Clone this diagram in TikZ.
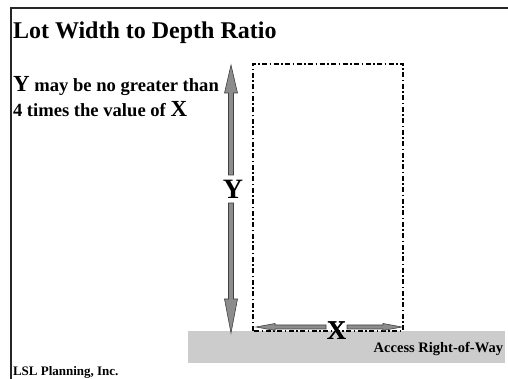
\documentclass[tikz,border=0pt]{standalone}
\usepackage{fontspec}
\setmainfont{Liberation Serif}
\usetikzlibrary{calc}
\definecolor{roadgray}{RGB}{204,204,204}
\definecolor{arrowgray}{RGB}{140,140,140}
\tikzset{
  lbl/.style={inner sep=0pt, outer sep=0pt, font=\bfseries},
  fatarrow/.style={fill=arrowgray, draw=black!75, line width=0.6pt, line join=miter},
  lotline/.style={draw=black, line width=1.4pt, dash pattern=on 5pt off 2.5pt on 1.5pt off 2.5pt},
}
\begin{document}
\begin{tikzpicture}[x=1pt,y=1pt]
\useasboundingbox (0,0) rectangle (508,379);
% frame
\draw[black!85, line width=1.3pt] (508,371) -- (11,371) -- (11,0);
% road band
\fill[roadgray] (188,16) rectangle (505,48);
% lot
\draw[lotline] (253,48) rectangle (403,315);
% coordinates
\coordinate (ytop) at (231,314);
\coordinate (ybot) at (231,46);
\coordinate (xleft) at (256,52);
\coordinate (xright) at (402,52);
% labels on arrows
\node[lbl, font=\bfseries\fontsize{28}{28}\selectfont] (ylab) at (233,190) {Y};
\node[lbl, font=\bfseries\fontsize{27}{27}\selectfont] (xlab) at (336.5,48) {X};
% Y arrow upper part
\draw[fatarrow] (ytop) -- ($(ytop)+(6.5,-28)$) -- ($(ytop)+(2.5,-28)$) -- (231+2.5,204) -- (231-2.5,204) -- ($(ytop)+(-2.5,-28)$) -- ($(ytop)+(-6.5,-28)$) -- cycle;
% Y arrow lower part
\draw[fatarrow] (ybot) -- ($(ybot)+(6.5,34)$) -- ($(ybot)+(2.5,34)$) -- (231+2.5,176) -- (231-2.5,176) -- ($(ybot)+(-2.5,34)$) -- ($(ybot)+(-6.5,34)$) -- cycle;
% X arrow left part
\draw[fatarrow] (xleft) -- ($(xleft)+(19,3.5)$) -- ($(xleft)+(19,2)$) -- (326,54) -- (326,50) -- ($(xleft)+(19,-2)$) -- ($(xleft)+(19,-3.5)$) -- cycle;
% X arrow right part
\draw[fatarrow] (xright) -- ($(xright)+(-19,3.5)$) -- ($(xright)+(-19,2)$) -- (347,54) -- (347,50) -- ($(xright)+(-19,-2)$) -- ($(xright)+(-19,-3.5)$) -- cycle;
% redraw X on top
\node[lbl, font=\bfseries\fontsize{27}{27}\selectfont] at (xlab) {X};
% texts
\node[lbl, font=\bfseries\fontsize{24}{24}\selectfont, anchor=base west] (title) at (13,340) {Lot Width to Depth Ratio};
\node[lbl, anchor=base west] (line1) at (13,287) {{\fontsize{23}{23}\selectfont Y}{\fontsize{18.6}{19}\selectfont\ may be no greater than}};
\node[lbl, anchor=base west] (line2) at (13,262) {{\fontsize{18.6}{19}\selectfont 4 times the value of }{\fontsize{23}{23}\selectfont X}};
\node[lbl, font=\bfseries\fontsize{14.5}{15}\selectfont, anchor=base east] (road) at (503,26) {Access Right-of-Way};
\node[lbl, font=\bfseries\fontsize{13}{14}\selectfont, anchor=base west] (firm) at (13,3.5) {LSL Planning, Inc.};
\end{tikzpicture}
\end{document}
